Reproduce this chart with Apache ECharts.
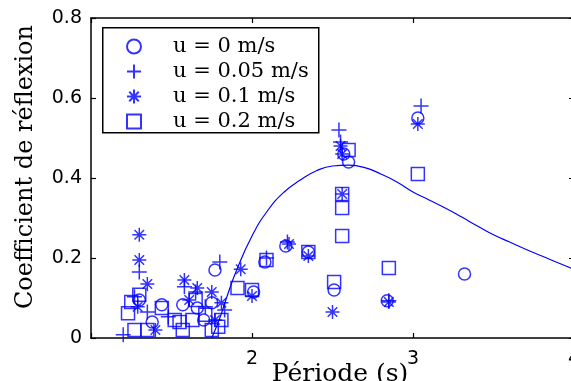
<!DOCTYPE html>
<html>
<head>
<meta charset="utf-8">
<script src="https://cdn.jsdelivr.net/npm/echarts@6/dist/echarts.min.js"></script>
<style>html,body{margin:0;padding:0;background:#fff;overflow:hidden;}#c{width:571px;height:381px;}</style>
</head>
<body>
<div id="c"></div>
<script>
// ---- data ----
const seriesNames = ['u = 0 m/s', 'u = 0.05 m/s', 'u = 0.1 m/s', 'u = 0.2 m/s'];
const xTicks = [1, 2, 3, 4];
const yTicks = [0, 0.2, 0.4, 0.6, 0.8];

const u0 = [ // circles
  [1.30,0.095],[1.38,0.04],[1.44,0.083],[1.57,0.083],[1.66,0.075],[1.70,0.045],
  [1.75,0.088],[1.77,0.17],[2.01,0.115],[2.08,0.19],[2.21,0.23],[2.35,0.215],
  [2.51,0.12],[2.57,0.46],[2.60,0.44],[2.84,0.093],[3.03,0.55],[3.32,0.16]
];
const u005 = [ // plus
  [1.20,0.008],[1.27,0.103],[1.30,0.165],[1.35,0.065],[1.48,0.053],[1.58,0.128],
  [1.65,0.115],[1.71,0.078],[1.80,0.19],[1.83,0.07],[2.09,0.2],[2.22,0.24],
  [2.54,0.52],[2.55,0.49],[2.85,0.093],[3.05,0.58]
];
const u01 = [ // asterisk
  [1.29,0.078],[1.30,0.258],[1.30,0.195],[1.35,0.135],[1.40,0.02],[1.58,0.145],
  [1.61,0.095],[1.66,0.125],[1.75,0.115],[1.77,0.045],[1.81,0.088],[1.93,0.172],
  [2.00,0.105],[2.23,0.235],[2.35,0.205],[2.50,0.065],[2.55,0.48],[2.56,0.46],
  [2.56,0.36],[2.85,0.09],[3.03,0.535]
];
const u02 = [ // squares
  [1.23,0.062],[1.25,0.09],[1.27,0.02],[1.30,0.108],[1.35,0.02],[1.44,0.075],
  [1.52,0.045],[1.55,0.04],[1.57,0.02],[1.63,0.045],[1.65,0.095],[1.71,0.058],
  [1.75,0.02],[1.79,0.028],[1.81,0.045],[1.91,0.125],[2.00,0.12],[2.09,0.195],
  [2.35,0.215],[2.51,0.14],[2.56,0.36],[2.56,0.325],[2.56,0.255],[2.60,0.47],
  [2.85,0.175],[3.03,0.41]
];
const theoryX = [1.75,1.8,1.85,1.9,2.0,2.1,2.2,2.3,2.4,2.5,2.6,2.7,2.8,2.9,3.0,3.1,3.2,3.3,3.4,3.5,3.6,3.7,3.8,3.9,4.0];
const theoryY = [0,0.05,0.11,0.165,0.255,0.32,0.365,0.395,0.418,0.43,0.432,0.426,0.41,0.39,0.365,0.345,0.325,0.303,0.28,0.258,0.24,0.222,0.205,0.188,0.172];

// ---- chart ----
const BLUE = '#0000ff';
const PLUS = 'path://M0,5L10,5M5,0L5,10';
const STAR = 'path://M0,5L10,5M5,0L5,10M1.6,1.6L8.4,8.4M8.4,1.6L1.6,8.4';
const mk = {color: 'transparent', borderColor: BLUE, borderWidth: 1.5};
const axisCommon = {
  type: 'value',
  axisLine: {show: true, onZero: false, lineStyle: {color: '#000', width: 1.5}},
  axisTick: {show: true, inside: true, length: 5, lineStyle: {color: '#000', width: 1.2}},
  splitLine: {show: false}
};
const chart = echarts.init(document.getElementById('c'), null, {renderer: 'canvas'});
chart.setOption({
  animation: false,
  backgroundColor: '#fff',
  grid: {left: 91, top: 18, right: -3, bottom: 43, containLabel: false, outerBoundsMode: 'none'},
  xAxis: [
    Object.assign({}, axisCommon, {min: xTicks[0], max: xTicks[xTicks.length-1], interval: 1, position: 'bottom',
      axisLabel: {show: true, margin: 12, color: '#000', fontFamily: 'DejaVu Sans', fontSize: 19,
        formatter: v => v === 1 ? '' : String(v)}}),
    Object.assign({}, axisCommon, {min: xTicks[0], max: xTicks[xTicks.length-1], interval: 1, position: 'top',
      axisLabel: {show: false}})
  ],
  yAxis: [
    Object.assign({}, axisCommon, {min: yTicks[0], max: yTicks[yTicks.length-1], interval: 0.2, position: 'left',
      axisLabel: {show: true, margin: 9, color: '#000', fontFamily: 'DejaVu Sans', fontSize: 19,
        formatter: v => v === 0 ? '0' : v.toFixed(1)}}),
    Object.assign({}, axisCommon, {min: yTicks[0], max: yTicks[yTicks.length-1], interval: 0.2, position: 'right',
      axisLabel: {show: false}})
  ],
  legend: {
    data: seriesNames,
    orient: 'vertical',
    left: 126, top: 36,
    padding: 0,
    itemWidth: 14, itemHeight: 14, itemGap: 4,
    z: 10,
    textStyle: {color: '#000', fontFamily: 'DejaVu Serif', fontSize: 21, padding: [0,0,0,27]}
  },
  graphic: [
    {type: 'rect', left: 102, top: 27, shape: {width: 216, height: 105},
      style: {fill: '#fff', stroke: '#000', lineWidth: 1.5}, z: 5, silent: true},
    {type: 'text', x: 26, y: 167, rotation: Math.PI/2,
      style: {text: 'Coefficient de réflexion', font: '24px "DejaVu Serif"', fill: '#000', align: 'center', verticalAlign: 'middle'}},
    {type: 'text', x: 340, y: 374,
      style: {text: 'Période (s)', font: '25px "DejaVu Serif"', fill: '#000', align: 'center', verticalAlign: 'middle'}}
  ],
  series: [
    {name: seriesNames[0], type: 'scatter', data: u0, symbol: 'circle', symbolSize: 12, itemStyle: mk},
    {name: seriesNames[1], type: 'scatter', data: u005, symbol: PLUS, symbolSize: 15, itemStyle: mk},
    {name: seriesNames[2], type: 'scatter', data: u01, symbol: STAR, symbolSize: 14, itemStyle: mk},
    {name: seriesNames[3], type: 'scatter', data: u02, symbol: 'rect', symbolSize: 13, itemStyle: mk},
    {name: 'theory', type: 'line', data: theoryX.map((x, i) => [x, theoryY[i]]), smooth: true,
      showSymbol: false, symbol: 'none', lineStyle: {color: BLUE, width: 1.2}, z: 1}
  ]
});
</script>
</body>
</html>
